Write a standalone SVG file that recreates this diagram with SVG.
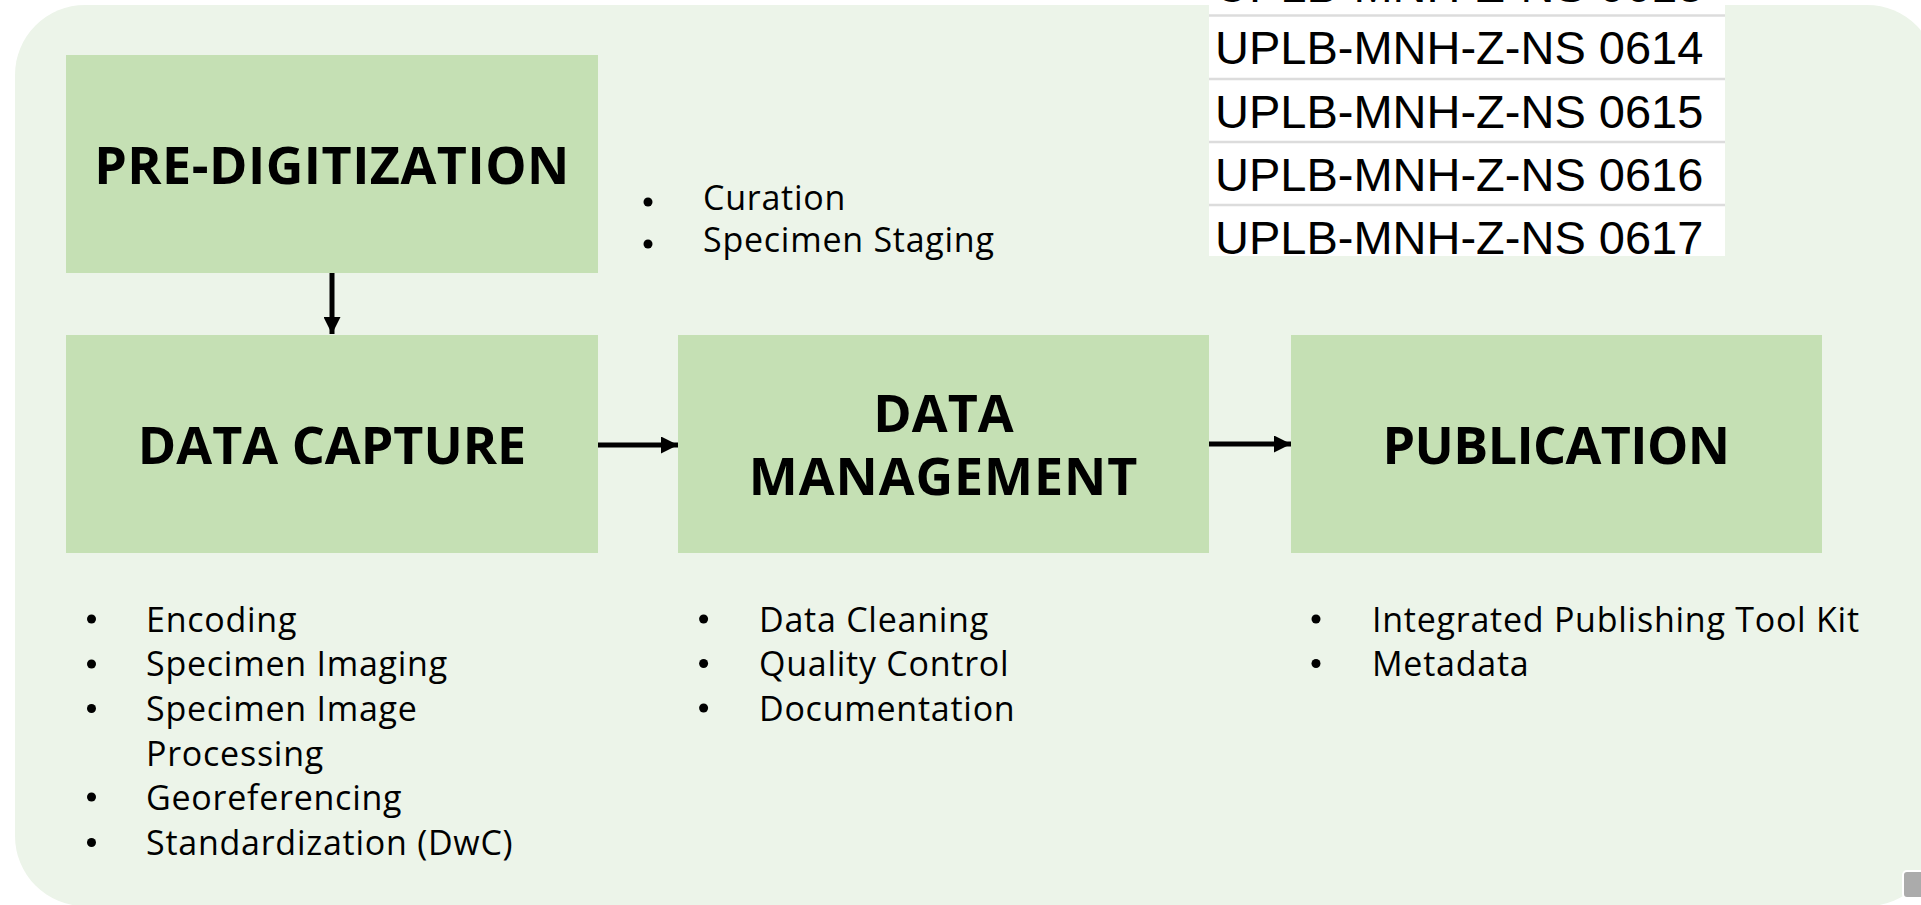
<svg xmlns="http://www.w3.org/2000/svg" width="1921" height="905" viewBox="0 0 1921 905">
  <defs>
    <style>
      .box { fill: #C5E0B4; }
      .title { font-family: "Open Sans", "Noto Sans", sans-serif; font-weight: bold; font-size: 52px; fill: #000; text-anchor: middle; }
      .item { font-family: "Open Sans", "Noto Sans", sans-serif; font-size: 34px; letter-spacing: 0.75px; fill: #000; }
      .bul { fill: #000; }
      .code { font-family: "Liberation Sans", Arial, sans-serif; font-size: 47px; fill: #000; }
      .sep { stroke: #DCDCDC; stroke-width: 2.5; }
      .conn { stroke: #000; stroke-width: 5; fill: none; }
    </style>
    <marker id="ah" viewBox="0 0 10 10" refX="10" refY="5" markerUnits="userSpaceOnUse" markerWidth="18" markerHeight="17" orient="auto">
      <path d="M0,0 L10,5 L0,10 Z" fill="#000"/>
    </marker>
  </defs>

  <rect x="0" y="0" width="1921" height="905" fill="#FFFFFF"/>
  <rect id="background" x="15" y="5" width="1922" height="901" rx="70" ry="70" fill="#ECF4E9"/>

  <g id="specimen-labels">
    <rect x="1209" y="0" width="516" height="256" fill="#FFFFFF"/>
    <line class="sep" x1="1209" y1="15.5" x2="1725" y2="15.5"/>
    <line class="sep" x1="1209" y1="79" x2="1725" y2="79"/>
    <line class="sep" x1="1209" y1="142" x2="1725" y2="142"/>
    <line class="sep" x1="1209" y1="205" x2="1725" y2="205"/>
    <text class="code" x="1215" y="2">UPLB-MNH-Z-NS 0613</text>
    <text class="code" x="1215" y="64">UPLB-MNH-Z-NS 0614</text>
    <text class="code" x="1215" y="127.5">UPLB-MNH-Z-NS 0615</text>
    <text class="code" x="1215" y="190.5">UPLB-MNH-Z-NS 0616</text>
    <text class="code" x="1215" y="254">UPLB-MNH-Z-NS 0617</text>
  </g>

  <g id="connectors">
    <line class="conn" x1="332" y1="273" x2="332" y2="334" marker-end="url(#ah)"/>
    <line class="conn" x1="598" y1="445" x2="678" y2="445" marker-end="url(#ah)"/>
    <line class="conn" x1="1209" y1="444" x2="1291" y2="444" marker-end="url(#ah)"/>
  </g>

  <g id="pre-digitization">
    <rect class="box" x="66" y="55" width="532" height="218"/>
    <text class="title" x="332" y="184" style="letter-spacing:0.5px">PRE-DIGITIZATION</text>
  </g>

  <g id="pre-digitization-items">
    <circle class="bul" cx="648" cy="202" r="4.5"/>
    <text class="item" x="703" y="210">Curation</text>
    <circle class="bul" cx="648" cy="244" r="4.5"/>
    <text class="item" x="703" y="252">Specimen Staging</text>
  </g>

  <g id="data-capture">
    <rect class="box" x="66" y="335" width="532" height="218"/>
    <text class="title" x="332" y="464">DATA CAPTURE</text>
  </g>

  <g id="data-capture-items">
    <circle class="bul" cx="91.5" cy="619" r="4.5"/>
    <text class="item" x="146" y="631.5">Encoding</text>
    <circle class="bul" cx="91.5" cy="664" r="4.5"/>
    <text class="item" x="146" y="676.3">Specimen Imaging</text>
    <circle class="bul" cx="91.5" cy="708.5" r="4.5"/>
    <text class="item" x="146" y="721">Specimen Image</text>
    <text class="item" x="146" y="765.8">Processing</text>
    <circle class="bul" cx="91.5" cy="797" r="4.5"/>
    <text class="item" x="146" y="809.5">Georeferencing</text>
    <circle class="bul" cx="91.5" cy="842.5" r="4.5"/>
    <text class="item" x="146" y="855">Standardization (DwC)</text>
  </g>

  <g id="data-management">
    <rect class="box" x="678" y="335" width="531" height="218"/>
    <text class="title" x="943.5" y="432"><tspan x="943.5" y="432">DATA</tspan><tspan x="943.5" y="495" style="letter-spacing:0.9px">MANAGEMENT</tspan></text>
  </g>

  <g id="data-management-items">
    <circle class="bul" cx="703.6" cy="619" r="4.5"/>
    <text class="item" x="759" y="631.5">Data Cleaning</text>
    <circle class="bul" cx="703.6" cy="663.5" r="4.5"/>
    <text class="item" x="759" y="676">Quality Control</text>
    <circle class="bul" cx="703.6" cy="708" r="4.5"/>
    <text class="item" x="759" y="720.5">Documentation</text>
  </g>

  <g id="publication">
    <rect class="box" x="1291" y="335" width="531" height="218"/>
    <text class="title" x="1556" y="464" style="letter-spacing:-0.6px">PUBLICATION</text>
  </g>

  <g id="publication-items">
    <circle class="bul" cx="1316" cy="619" r="4.5"/>
    <text class="item" x="1372" y="631.5">Integrated Publishing Tool Kit</text>
    <circle class="bul" cx="1316" cy="663.5" r="4.5"/>
    <text class="item" x="1372" y="676">Metadata</text>
  </g>

  <g id="corner-widget">
    <rect x="1903" y="871" width="30" height="27" rx="4" ry="4" fill="#ABABAB" stroke="#FFFFFF" stroke-width="2"/>
  </g>
</svg>
